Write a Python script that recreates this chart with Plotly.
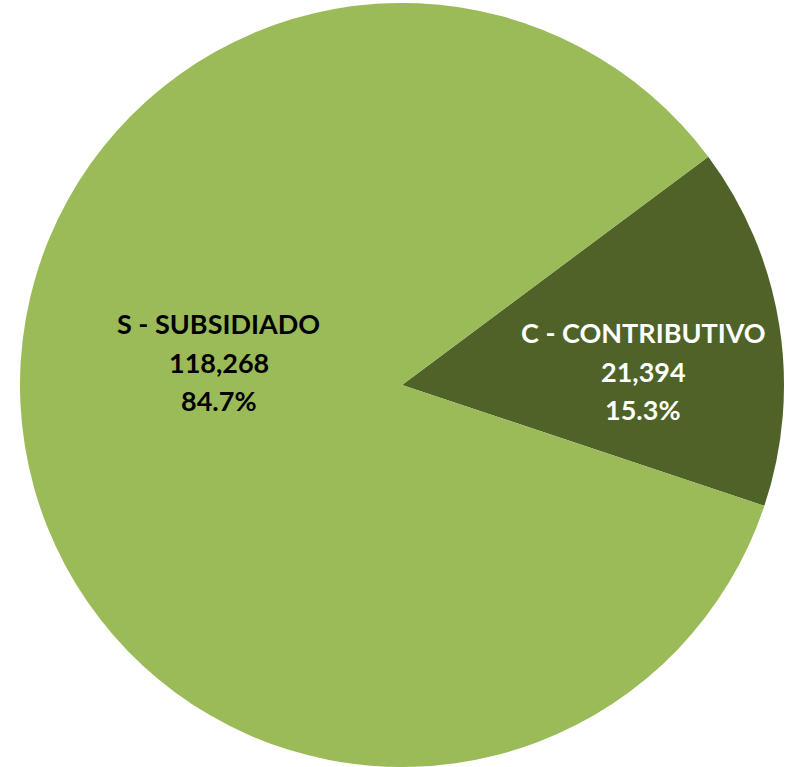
import plotly.graph_objects as go

labels = ["C - CONTRIBUTIVO", "S - SUBSIDIADO"]
values = [21394, 118268]
colors = ["#4F6228", "#9BBB59"]
text_colors = ["white", "black"]
# label block centres (pixel positions in the 788x767 canvas) and line offsets
label_pos = [(643, 371), (219, 362)]
line_offsets = [-39, 0, 38]

W, H = 788, 767
total = sum(values)

fig = go.Figure(go.Pie(
    labels=labels,
    values=values,
    sort=False,
    direction="clockwise",
    rotation=53.3,
    marker=dict(colors=colors, line=dict(width=0)),
    textinfo="none",
    hoverinfo="label+value+percent",
    domain=dict(x=[20 / W, 784 / W], y=[0, 764 / H]),
    showlegend=False,
))

annotations = []
for lab, val, col, (cx, cy) in zip(labels, values, text_colors, label_pos):
    lines = [lab, f"{val:,}", f"{val / total * 100:.1f}%"]
    for line, off in zip(lines, line_offsets):
        annotations.append(dict(
            x=cx / W, y=1 - (cy + off) / H, xref="paper", yref="paper",
            text=f"<b>{line}</b>", showarrow=False,
            xanchor="center", yanchor="middle",
            font=dict(family="Lato", size=27, color=col),
        ))

fig.update_layout(
    width=W,
    height=H,
    margin=dict(l=0, r=0, t=0, b=0),
    paper_bgcolor="white",
    plot_bgcolor="white",
    annotations=annotations,
)

fig.write_html("out.html", config={"displayModeBar": False},
               post_script="document.body.style.margin='0';")
